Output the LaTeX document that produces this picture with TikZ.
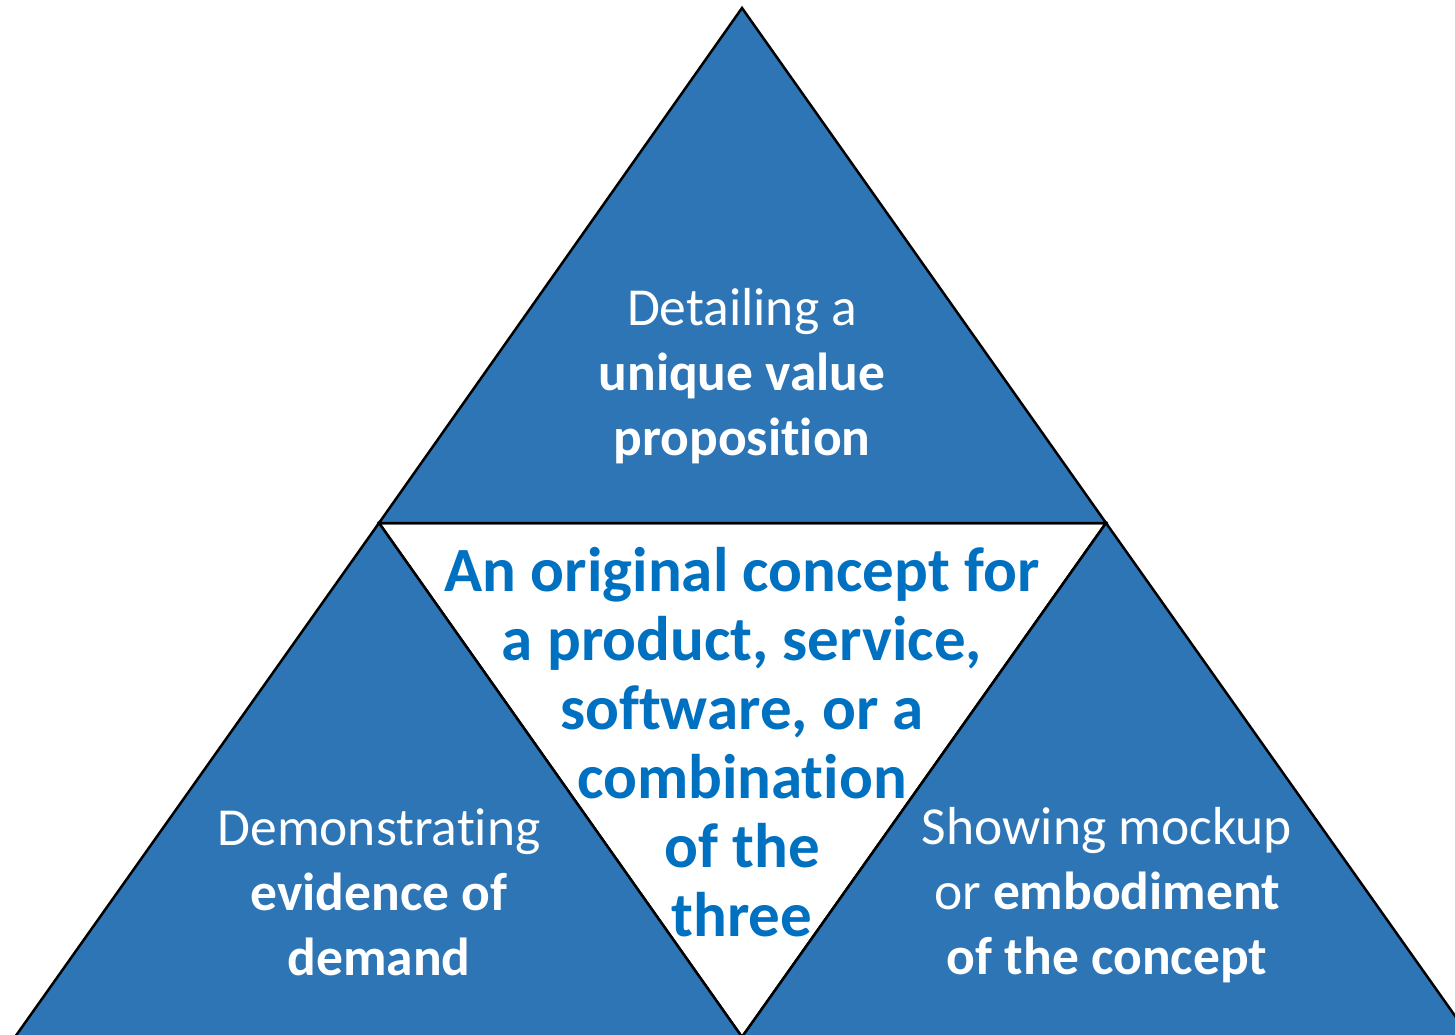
\documentclass[tikz,border=0pt]{standalone}
\usepackage{fontspec}
\setmainfont{Carlito}[Ligatures=CommonOff]
\definecolor{triblue}{HTML}{2E75B6}
\definecolor{txtblue}{HTML}{0070C0}
\begin{document}
\begin{tikzpicture}[x=1pt,y=-1pt,
  tri/.style={fill=triblue,draw=black,line width=2.5pt,line join=miter},
  outtext/.style={text=white,align=center,font=\fontsize{53.5}{65}\selectfont},
  intext/.style={text=txtblue,align=center,font=\fontsize{63}{69}\selectfont\bfseries}]
\useasboundingbox (0,0) rectangle (1455,1035);
\clip (0,0) rectangle (1455,1035);
\coordinate (A) at (742,8);
\coordinate (L) at (379,523);
\coordinate (R) at (1106,523);
\coordinate (BL) at (15,1037);
\coordinate (BM) at (742,1037);
\coordinate (BR) at (1470,1037);
\draw[fill=white,draw=black,line width=2.5pt] (L) -- (R) -- (BM) -- cycle;
\draw[tri] (A) -- (L) -- (R) -- cycle;
\draw[tri] (L) -- (BL) -- (BM) -- cycle;
\draw[tri] (R) -- (BM) -- (BR) -- cycle;
\node[outtext] (top) at (742,376) {Detailing a\\\textbf{unique value}\\\textbf{proposition}};
\node[outtext] (left) at (379,892) {Demonstrating\\\textbf{evidence of}\\\textbf{demand}};
\node[outtext] (right) at (1107,895) {Showing mockup\\or \textbf{embodiment}\\\textbf{of the concept}};
\node[intext] (mid) at (742,742) {An original concept for\\a product, service,\\software, or a\\combination\\of the\\three};
\end{tikzpicture}
\end{document}
